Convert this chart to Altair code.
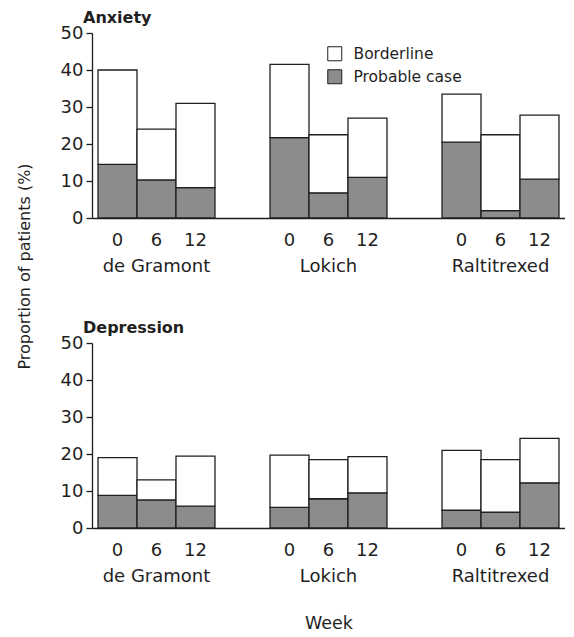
import altair as alt
import pandas as pd

FONT = "DejaVu Sans"
INK = "#1f1f1f"
GREY = "#8c8c8c"

groups = ["de Gramont", "Lokich", "Raltitrexed"]
weeks = ["0", "6", "12"]
categories = ["Borderline", "Probable case"]

# Total (borderline + probable) and probable case, per group x week
anx_total = [40, 24, 31, 41.5, 22.5, 27, 33.5, 22.5, 27.8]
anx_prob = [14.5, 10.3, 8.2, 21.7, 6.8, 11, 20.5, 2, 10.5]
dep_total = [19, 13, 19.4, 19.7, 18.5, 19.3, 21, 18.5, 24.2]
dep_prob = [8.8, 7.6, 5.9, 5.6, 7.9, 9.5, 4.8, 4.3, 12.2]


def make_df(total, prob):
    rows = []
    i = 0
    for g in groups:
        for w in weeks:
            rows.append(dict(group=g, week=w, cat="Probable case", value=prob[i], ord=0))
            rows.append(dict(group=g, week=w, cat="Borderline", value=round(total[i] - prob[i], 2), ord=1))
            i += 1
    return pd.DataFrame(rows)


def panel(df, title, legend, x_title, y_axis):
    xscale = alt.Scale(domain=groups, paddingInner=0.32, paddingOuter=0.035)
    yscale = alt.Scale(domain=[0, 50])
    xaxis = alt.Axis(title=x_title, ticks=False, labelPadding=39, labelAngle=0,
                     domainWidth=1.3, titlePadding=29, titleFontSize=17.5,
                     titleFontWeight="normal", titleFont=FONT, titleColor=INK)
    xoff = alt.XOffset("week:N", sort=weeks, scale=alt.Scale(paddingInner=0, paddingOuter=0))
    base = alt.Chart(df)
    bars = base.mark_bar(stroke=INK, strokeWidth=1.3).encode(
        x=alt.X("group:N", scale=xscale, sort=groups, axis=xaxis),
        xOffset=xoff,
        y=alt.Y("value:Q", stack="zero", scale=yscale, axis=y_axis),
        color=alt.Color("cat:N", scale=alt.Scale(domain=categories, range=["white", GREY]),
                        legend=legend),
        order=alt.Order("ord:Q"),
    )
    labels = base.transform_filter(alt.datum.ord == 0).mark_text(
        dy=23, fontSize=18, font=FONT, color=INK
    ).encode(
        x=alt.X("group:N", scale=xscale, sort=groups, axis=xaxis),
        xOffset=xoff,
        y=alt.YDatum(0, type="quantitative", scale=yscale, axis=y_axis),
        text="week:N",
    )
    return alt.layer(bars, labels).properties(
        width=473, height=185,
        title=alt.TitleParams(title, anchor="start", frame="group", dx=-9, offset=-2,
                              fontSize=16, font=FONT, fontWeight="bold", color=INK),
    )


y_top = alt.Axis(values=[0, 10, 20, 30, 40, 50], title="Proportion of patients (%)",
                 titleX=-60, titleY=233, titleFontSize=16, titleFont=FONT,
                 titleFontWeight="normal", titleColor=INK, tickSize=6, labelPadding=3,
                 domainWidth=1.3)
y_bot = alt.Axis(values=[0, 10, 20, 30, 40, 50], title=None, tickSize=6, labelPadding=3,
                 domainWidth=1.3)

legend = alt.Legend(orient="none", legendX=235, legendY=13, title=None, symbolType="square",
                    symbolSize=196, symbolStrokeColor=INK, symbolStrokeWidth=1,
                    labelFontSize=15.5, labelFont=FONT, labelColor=INK, labelOffset=11,
                    rowPadding=4)

top = panel(make_df(anx_total, anx_prob), "Anxiety", legend, None, y_top)
bottom = panel(make_df(dep_total, dep_prob), "Depression", None, "Week", y_bot)

chart = alt.vconcat(top, bottom, spacing=125, bounds="flush").resolve_scale(
    color="shared"
).properties(
    padding={"left": 8, "top": 2, "right": 0, "bottom": 0}
).configure_view(stroke=None).configure_axis(
    grid=False, domainColor=INK, tickColor=INK, labelColor=INK, labelFont=FONT,
    labelFontSize=18, tickWidth=1.3
)

chart.save("out.html", embed_options={"renderer": "svg", "actions": False})
